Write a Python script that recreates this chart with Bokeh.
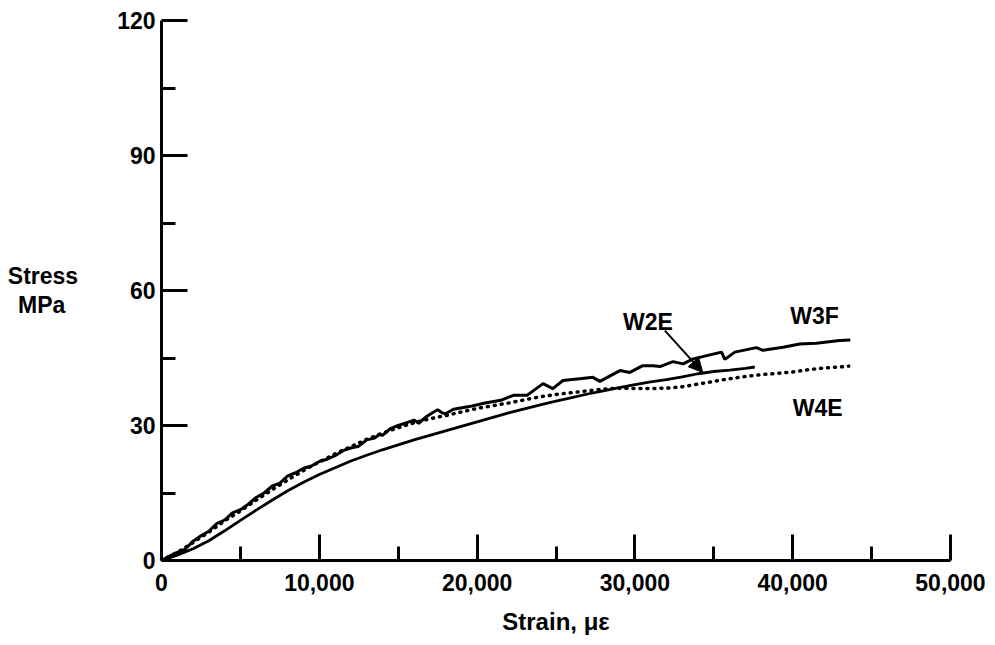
from bokeh.plotting import figure
from bokeh.models import (FixedTicker, NumeralTickFormatter, Label, Arrow,
                          NormalHead, Range1d)
from bokeh.embed import file_html
from bokeh.resources import INLINE

# ---- data (strain in micro-strain, stress in MPa) ----
w3f_strain = [0, 500, 1000, 1500, 2000, 2500, 3000, 3500, 4000, 4500, 5000, 5500,
              6000, 6500, 7000, 7500, 8000, 8500, 9000, 9500, 10000, 10500, 11000,
              11500, 12000, 12500, 13000, 13500, 13800, 14000, 14500, 15000, 15500,
              16000, 16300, 16800, 17200, 17500, 17800, 18000, 18500, 19500, 20500,
              21500, 22300, 23160, 24180, 24800, 25440, 26500, 27340, 27780, 29050,
              29680, 30500, 31160, 31580, 32420, 33060, 33690, 35490, 35700, 36330,
              37700, 38120, 39390, 40440, 41500, 42970, 43650]
w3f_stress = [0, 1.0, 1.8, 2.5, 4.3, 5.5, 6.5, 8.2, 9.0, 10.6, 11.3, 12.5,
              14.0, 15.0, 16.5, 17.2, 18.8, 19.5, 20.5, 21.0, 22.0, 22.5, 23.3,
              24.4, 25.0, 25.4, 26.8, 27.2, 28.0, 27.8, 29.3, 30.0, 30.6,
              31.2, 30.5, 32.0, 32.9, 33.5, 32.8, 32.6, 33.6, 34.2, 35.0,
              35.6, 36.7, 36.7, 39.3, 38.2, 40.0, 40.4, 40.7, 39.8, 42.2,
              41.8, 43.3, 43.3, 43.1, 44.2, 43.7, 44.8, 46.3, 44.7, 46.3,
              47.3, 46.7, 47.4, 48.1, 48.3, 48.9, 49.0]

w4e_strain = [0, 1000, 2000, 3000, 4000, 5000, 6000, 7000, 8000, 9000, 10000,
              11000, 12000, 13000, 14000, 15000, 16000, 17000, 18000, 19000, 20000,
              21000, 22000, 23000, 24000, 25000, 26000, 27000, 28000, 29000, 30000,
              31000, 32000, 33000, 34000, 35000, 36000, 37000, 38000, 39000, 40000,
              41000, 42000, 43000, 43550]
w4e_stress = [0, 1.8, 4.0, 6.3, 8.8, 11.0, 13.4, 15.7, 17.9, 20.0, 21.9,
              23.7, 25.3, 26.9, 28.3, 29.5, 30.6, 31.5, 32.2, 33.0, 33.8,
              34.4, 35.0, 35.7, 36.4, 36.9, 37.3, 37.7, 38.1, 38.3, 38.2,
              38.2, 38.3, 38.6, 39.2, 39.8, 40.4, 40.9, 41.3, 41.6, 41.9,
              42.4, 42.8, 43.0, 43.2]

w2e_strain = [0, 1000, 2000, 3000, 4000, 5000, 6000, 7000, 8000, 9000, 10000,
              11000, 12000, 13000, 14000, 15000, 16000, 17000, 18000, 19000, 20000,
              21000, 22000, 23000, 24000, 25000, 26000, 27000, 28000, 29000, 30000,
              31000, 32000, 33000, 34000, 35000, 36000, 37000, 37600]
w2e_stress = [0, 1.2, 2.6, 4.4, 6.6, 8.9, 11.2, 13.4, 15.5, 17.4, 19.1,
              20.6, 22.1, 23.4, 24.6, 25.7, 26.8, 27.8, 28.8, 29.8, 30.8,
              31.8, 32.8, 33.7, 34.6, 35.4, 36.2, 37.0, 37.7, 38.4, 39.1,
              39.7, 40.2, 40.8, 41.5, 42.0, 42.3, 42.7, 43.0]

x_ticks = [0, 10000, 20000, 30000, 40000, 50000]
x_minor = [5000, 15000, 25000, 35000, 45000]
y_ticks = [0, 30, 60, 90, 120]
y_minor = [15, 45, 75, 105]

FONT = "Liberation Sans"

p = figure(width=987, height=637, output_backend="svg", toolbar_location=None,
           x_range=Range1d(0, 50000), y_range=Range1d(0, 120),
           min_border_left=161, min_border_right=37, min_border_top=20,
           min_border_bottom=77)
p.outline_line_color = None
p.xgrid.visible = False
p.ygrid.visible = False
p.background_fill_color = "white"
p.border_fill_color = "white"

for ax in (p.xaxis[0], p.yaxis[0]):
    ax.axis_line_width = 3
    ax.major_tick_line_width = 3
    ax.minor_tick_line_width = 3
    ax.major_tick_out = 0
    ax.minor_tick_out = 0
    ax.major_tick_in = 26
    ax.minor_tick_in = 14
    ax.major_label_text_font = FONT
    ax.major_label_text_font_style = "bold"
    ax.major_label_text_font_size = "23px"
    ax.major_label_text_color = "black"
    ax.axis_line_color = "black"
    ax.major_tick_line_color = "black"
    ax.minor_tick_line_color = "black"
    ax.axis_label_text_font = FONT
    ax.axis_label_text_font_style = "bold"
    ax.axis_label_text_font_size = "23px"
    ax.axis_label_text_color = "black"

p.xaxis.ticker = FixedTicker(ticks=x_ticks, minor_ticks=x_minor)
p.yaxis.ticker = FixedTicker(ticks=y_ticks, minor_ticks=y_minor)
p.xaxis.formatter = NumeralTickFormatter(format="0,0")
p.xaxis.major_label_standoff = 13
p.yaxis.major_label_standoff = 6

p.xaxis.axis_label = "Strain, \u03bc\u03b5"
p.xaxis.axis_label_standoff = 14
p.xaxis.axis_label_text_font_size = "24px"
p.yaxis.axis_label = "Stress\n\u00a0MPa\u00a0\u00a0"
p.yaxis.axis_label_orientation = "horizontal"
p.yaxis.axis_label_standoff = 36
p.yaxis.axis_label_text_line_height = 1.1

p.line(w3f_strain, w3f_stress, line_color="black", line_width=3)
p.line(w2e_strain, w2e_stress, line_color="black", line_width=2.8)
p.line(w4e_strain, w4e_stress, line_color="black", line_width=3.5,
       line_dash="1 6", line_cap="round")

def lab(x, y, t):
    p.add_layout(Label(x=x, y=y, text=t, text_font=FONT, text_font_size="23px",
                       text_font_style="bold", text_align="center",
                       text_baseline="middle", text_color="black"))

lab(30820, 52.9, "W2E")
lab(41390, 54.4, "W3F")
lab(41580, 33.8, "W4E")

p.add_layout(Arrow(end=NormalHead(size=14, fill_color="black", line_color="black"),
                   x_start=31900, y_start=51.1, x_end=34300, y_end=41.8,
                   line_width=2, line_color="black"))

open("out.html", "w").write(file_html(p, INLINE))
